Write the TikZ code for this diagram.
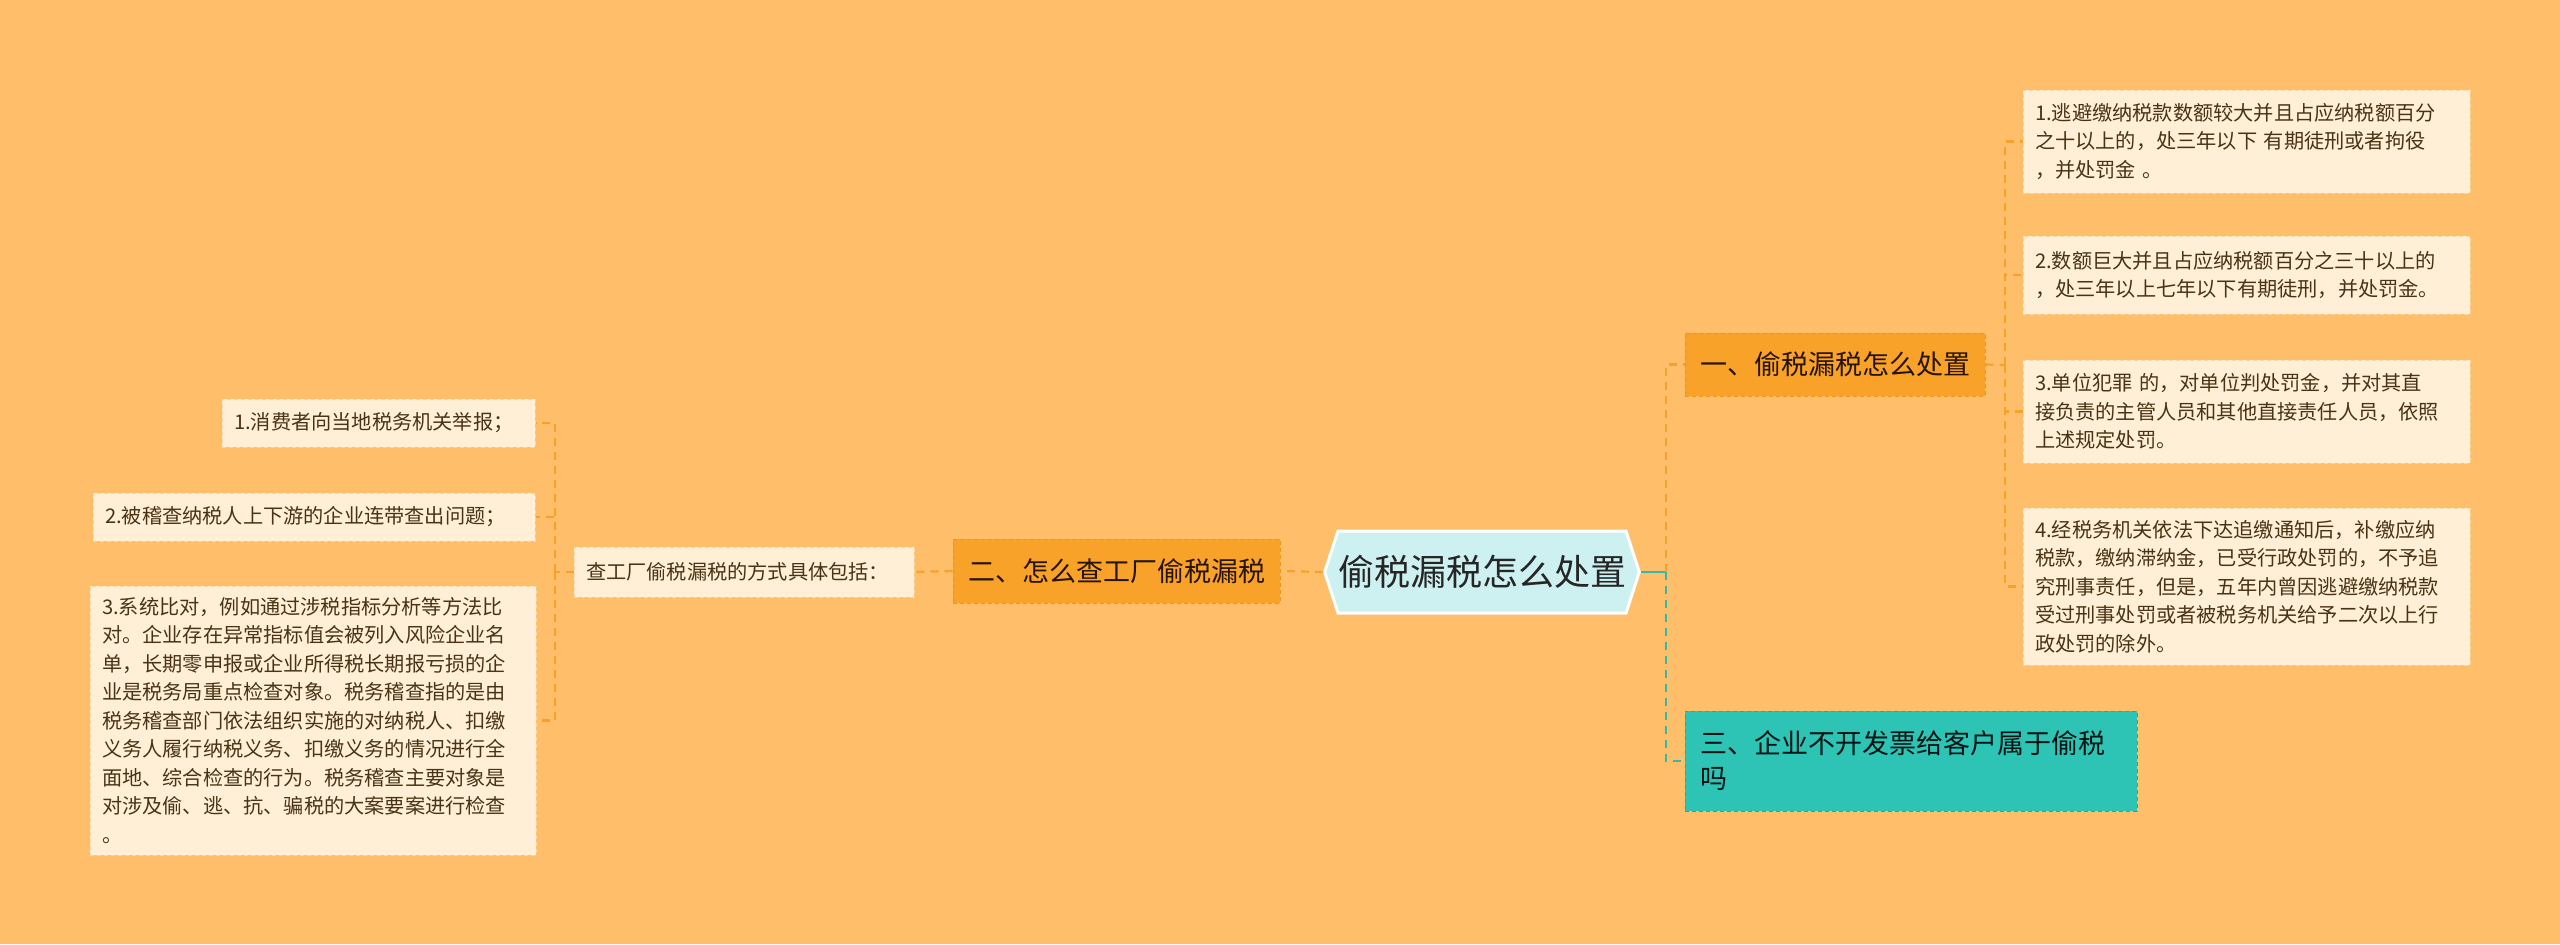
\documentclass[tikz,border=0pt]{standalone}
\usepackage{fontspec}
\setmainfont{Noto Sans CJK SC}
\usetikzlibrary{shapes.symbols}
\definecolor{bg}{HTML}{FFBE69}
\definecolor{orangebox}{HTML}{F9A22A}
\definecolor{orangeedge}{HTML}{EE9418}
\definecolor{cream}{HTML}{FFEFD6}
\definecolor{creamedge}{HTML}{F4D8AA}
\definecolor{tealbox}{HTML}{2EC4B5}
\definecolor{tealedge}{HTML}{22AC9F}
\definecolor{rootfill}{HTML}{CDF1F0}
\definecolor{leaftext}{HTML}{4A3314}
\definecolor{linkor}{HTML}{F5A12C}
\definecolor{linkteal}{HTML}{2EBBA8}
\begin{document}
\begin{tikzpicture}[x=0.5pt,y=-0.5pt,
  link/.style={draw=linkor,line width=1.1pt,dash pattern=on 4pt off 3pt},
  tlink/.style={draw=linkteal,line width=1.1pt,dash pattern=on 4pt off 3pt},
  leaf/.style={fill=cream,draw=creamedge,line width=0.5pt,dash pattern=on 2pt off 1.5pt,
    inner xsep=6pt,inner ysep=2pt,align=left,text=leaftext,
    font=\fontsize{10.1pt}{14.25pt}\selectfont},
  branch/.style={fill=orangebox,draw=orangeedge,line width=0.5pt,dash pattern=on 2pt off 1.5pt,
    inner xsep=7.5pt,inner ysep=2pt,align=left,text={black!85!orange},
    font=\fontsize{13.5pt}{17.5pt}\selectfont},
  tbranch/.style={branch,fill=tealbox,draw=tealedge,text={black!85!teal}},
  rootnode/.style={shape=signal,signal to=east and west,signal pointer angle=144,
    fill=rootfill,draw=white,line width=1.5pt,minimum width=156pt,minimum height=41pt,
    inner sep=0pt,text={black!85},font=\fontsize{18pt}{22pt}\selectfont}]
\useasboundingbox[fill=bg] (0,0) rectangle (2560,944);

\node[rootnode] (root) at (1482,572) {偷税漏税怎么处置};

\node[branch,text width=148.5pt,minimum height=32pt] (two) at (1116.5,571) {二、怎么查工厂偷税漏税};
\node[leaf,text width=158pt,minimum height=25pt] (mid) at (744,572) {查工厂偷税漏税的方式具体包括：};
\node[leaf,text width=144.5pt,minimum height=24pt] (l1) at (378.5,423) {1.消费者向当地税务机关举报；};
\node[leaf,text width=209pt,minimum height=24pt] (l2) at (314,517) {2.被稽查纳税人上下游的企业连带查出问题；};
\node[leaf,text width=211pt,minimum height=134.5pt] (l3) at (313,720.5) {3.系统比对，例如通过涉税指标分析等方法比\\对。企业存在异常指标值会被列入风险企业名\\单，长期零申报或企业所得税长期报亏损的企\\业是税务局重点检查对象。税务稽查指的是由\\税务稽查部门依法组织实施的对纳税人、扣缴\\义务人履行纳税义务、扣缴义务的情况进行全\\面地、综合检查的行为。税务稽查主要对象是\\对涉及偷、逃、抗、骗税的大案要案进行检查\\。};

\node[branch,text width=135pt,minimum height=31.5pt] (one) at (1835,364.5) {一、偷税漏税怎么处置};
\node[tbranch,text width=211pt,minimum height=50pt] (three) at (1911,761) {三、企业不开发票给客户属于偷税\\吗};

\node[leaf,text width=211.5pt,minimum height=51.5pt] (r1) at (2246.5,141.5) {1.逃避缴纳税款数额较大并且占应纳税额百分\\之十以上的，处三年以下 有期徒刑或者拘役\\，并处罚金 。};
\node[leaf,text width=211.5pt,minimum height=39pt] (r2) at (2246.5,275) {2.数额巨大并且占应纳税额百分之三十以上的\\，处三年以上七年以下有期徒刑，并处罚金。};
\node[leaf,text width=211.5pt,minimum height=51.5pt] (r3) at (2246.5,411.5) {3.单位犯罪 的，对单位判处罚金，并对其直\\接负责的主管人员和其他直接责任人员，依照\\上述规定处罚。};
\node[leaf,text width=211.5pt,minimum height=78.5pt] (r4) at (2246.5,586.5) {4.经税务机关依法下达追缴通知后，补缴应纳\\税款，缴纳滞纳金，已受行政处罚的，不予追\\究刑事责任，但是，五年内曾因逃避缴纳税款\\受过刑事处罚或者被税务机关给予二次以上行\\政处罚的除外。};

\coordinate (busL) at (555,572);
\coordinate (busC) at (1666,572);
\coordinate (busR) at (2005,365);

\draw[link] (root.west) -- (two.east);
\draw[link] (two.west) -- (mid.east);
\draw[link] (mid.west) -- (busL);
\draw[link] (busL) |- (l1.east);
\draw[link] (busL) |- (l2.east);
\draw[link] (busL) |- (l3.east);

\draw[draw=linkteal,line width=1.1pt] (root.east) -- (busC);
\draw[link] (busC) |- (one.west);
\draw[tlink] (busC) |- (three.west);

\draw[link] (one.east) -- (busR);
\draw[link] (busR) |- (r1.west);
\draw[link] (busR) |- (r2.west);
\draw[link] (busR) |- (r3.west);
\draw[link] (busR) |- (r4.west);
\end{tikzpicture}
\end{document}
